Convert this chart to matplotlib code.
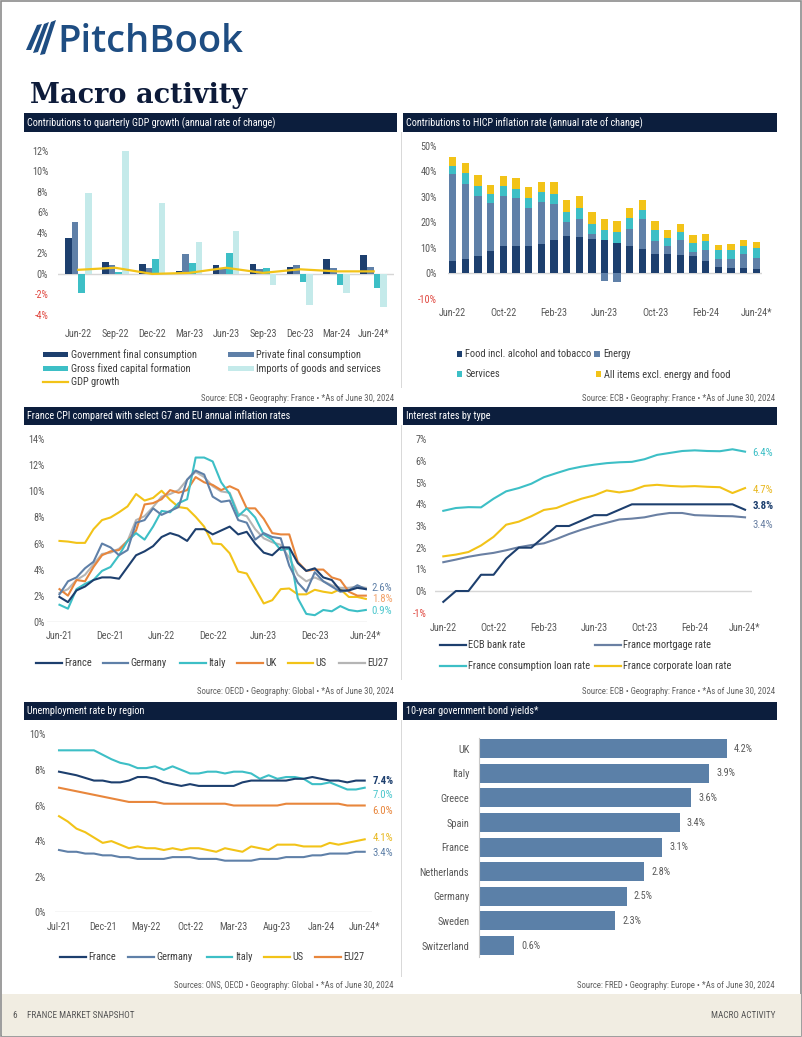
# Imports

import numpy
from matplotlib import pyplot
from matplotlib import font_manager
from matplotlib.patches import Rectangle, Polygon
from matplotlib.lines import Line2D

# Global variables

pageWidth = 802
pageHeight = 1037

installedFonts = set(f.name for f in font_manager.fontManager.ttflist)
bodyFont = "Liberation Sans"
for candidate in ["Liberation Sans Narrow", "Roboto Condensed", "Open Sans Condensed"]:
    if candidate in installedFonts:
        bodyFont = candidate
        break

pyplot.rcParams["font.family"] = [bodyFont, "DejaVu Sans"]

navyColor = "#1d3f6e"
slateColor = "#5f80a8"
tealColor = "#3dbfc6"
aquaColor = "#c4eaea"
yellowColor = "#f2c318"
orangeColor = "#e8863c"
greyColor = "#b5b5b5"
bondColor = "#5b80a8"
headerColor = "#0c1e3d"
negativeColor = "#e0473f"
tickColor = "#595959"
legendColor = "#3d3d3d"
zeroLineColor = "#d6d6d6"

# Data: contributions to quarterly GDP growth

gdpQuarters = ["Jun-22", "Sep-22", "Dec-22", "Mar-23", "Jun-23", "Sep-23", "Dec-23", "Mar-24", "Jun-24*"]
govConsumption = [3.5, 1.2, 1.0, 0.3, 0.9, 1.0, 0.7, 1.5, 1.8]
privateConsumption = [5.1, 0.9, 0.6, 1.9, 0.5, 0.5, 0.9, 0.6, 0.7]
capitalFormation = [-1.9, 0.2, 1.5, 1.1, 2.0, 0.6, -0.8, -1.1, -1.4]
importsGoods = [7.9, 12.0, 6.9, 3.1, 4.2, -1.1, -3.0, -1.9, -3.2]
gdpGrowth = [0.4, 0.6, 0.0, 0.1, 0.6, 0.1, 0.45, 0.25, 0.25]

# Data: contributions to HICP inflation (Jun-22 to Jun-24)

hicpTickLabels = ["Jun-22", "Oct-22", "Feb-23", "Jun-23", "Oct-23", "Feb-24", "Jun-24*"]
hicpFood = [5.0, 5.7, 6.9, 8.7, 10.6, 10.6, 10.6, 11.6, 13.2, 14.8, 14.4, 13.6, 13.1, 12.0, 10.8, 9.7, 7.7, 7.7, 7.3, 6.7, 5.0, 2.6, 2.0, 2.0, 1.6]
hicpEnergy = [33.9, 29.3, 23.4, 18.7, 19.7, 18.9, 15.1, 16.5, 14.0, 5.3, 6.7, 1.9, -3.0, -3.3, 6.7, 11.4, 5.1, 3.0, 5.8, 1.8, 4.1, 3.0, 3.5, 5.4, 4.5]
hicpServices = [3.3, 4.2, 3.9, 3.5, 3.9, 3.7, 3.7, 3.8, 3.9, 3.9, 4.5, 4.0, 3.9, 4.2, 4.3, 3.8, 4.2, 3.3, 3.2, 3.5, 3.7, 3.4, 3.6, 3.3, 3.7]
hicpCore = [3.5, 4.0, 4.3, 3.8, 4.1, 4.3, 4.3, 4.0, 4.7, 4.7, 4.7, 4.7, 4.4, 4.3, 3.9, 3.7, 3.5, 2.8, 3.0, 2.9, 2.6, 2.1, 2.3, 2.4, 2.3]

# Data: CPI comparison (Jun-21 to Jun-24)

cpiTickLabels = ["Jun-21", "Dec-21", "Jun-22", "Dec-22", "Jun-23", "Dec-23", "Jun-24*"]
cpiFrance = [1.9, 1.5, 2.4, 2.7, 3.2, 3.4, 3.4, 3.3, 4.2, 5.1, 5.4, 5.8, 6.5, 6.8, 6.6, 6.2, 7.1, 7.1, 6.7, 7.0, 7.3, 6.7, 6.9, 6.0, 5.3, 5.1, 5.7, 5.7, 4.5, 3.9, 4.1, 3.4, 3.2, 2.4, 2.4, 2.6, 2.5]
cpiGermany = [2.1, 3.1, 3.4, 4.1, 4.6, 6.0, 5.7, 5.1, 5.5, 7.6, 7.8, 8.7, 8.2, 8.5, 8.8, 10.9, 11.6, 11.3, 9.6, 9.2, 9.3, 7.8, 7.6, 6.3, 6.8, 6.5, 6.4, 4.3, 3.0, 2.3, 3.8, 3.1, 2.7, 2.3, 2.4, 2.8, 2.5]
cpiItaly = [1.3, 1.0, 2.5, 2.9, 3.2, 3.9, 4.2, 5.1, 6.2, 6.8, 6.3, 7.3, 8.5, 8.4, 9.1, 9.4, 12.6, 12.6, 12.3, 10.7, 9.8, 8.1, 8.7, 8.0, 6.7, 6.3, 5.5, 5.6, 1.8, 0.6, 0.5, 0.9, 0.8, 1.2, 0.9, 0.8, 0.9]
cpiUK = [2.5, 2.0, 3.2, 3.1, 4.2, 5.1, 5.4, 5.5, 6.2, 7.0, 9.0, 9.1, 9.4, 10.1, 9.9, 10.1, 11.1, 10.7, 10.5, 10.1, 10.4, 10.1, 8.7, 8.7, 7.9, 6.8, 6.7, 6.7, 4.6, 3.9, 4.0, 4.0, 3.4, 3.2, 2.3, 2.0, 2.0]
cpiUS = [6.2, 6.15, 6.05, 6.05, 7.1, 7.8, 8.0, 8.4, 8.85, 9.8, 9.3, 9.5, 10.05, 9.35, 8.8, 8.7, 8.05, 7.3, 6.0, 5.95, 5.25, 3.85, 3.7, 2.55, 1.4, 1.65, 2.5, 2.55, 2.1, 2.1, 2.45, 2.3, 2.2, 2.5, 1.9, 1.9, 1.75]
cpiEU27 = [2.2, 2.5, 3.2, 3.6, 4.4, 5.2, 5.3, 5.6, 6.2, 7.8, 8.1, 8.8, 9.6, 9.8, 10.1, 10.9, 11.5, 11.1, 10.4, 10.0, 9.9, 8.3, 8.1, 7.1, 6.4, 6.1, 5.9, 4.9, 3.6, 3.1, 3.4, 3.1, 2.8, 2.6, 2.6, 2.7, 2.6]

# Data: interest rates by type (Jun-22 to Jun-24)

rateTickLabels = ["Jun-22", "Oct-22", "Feb-23", "Jun-23", "Oct-23", "Feb-24", "Jun-24*"]
ecbRate = [-0.5, 0.0, 0.0, 0.75, 0.75, 1.5, 2.0, 2.0, 2.5, 3.0, 3.0, 3.25, 3.5, 3.5, 3.75, 4.0, 4.0, 4.0, 4.0, 4.0, 4.0, 4.0, 4.0, 4.0, 3.75]
mortgageRate = [1.33, 1.45, 1.58, 1.68, 1.76, 1.88, 2.02, 2.12, 2.2, 2.4, 2.63, 2.83, 3.0, 3.15, 3.3, 3.34, 3.4, 3.52, 3.6, 3.6, 3.5, 3.48, 3.46, 3.45, 3.4]
consumptionRate = [3.7, 3.83, 3.87, 3.86, 4.26, 4.6, 4.75, 4.95, 5.25, 5.44, 5.62, 5.74, 5.83, 5.9, 5.94, 5.96, 6.08, 6.28, 6.37, 6.46, 6.49, 6.46, 6.45, 6.54, 6.43]
corporateRate = [1.6, 1.68, 1.8, 2.1, 2.5, 3.06, 3.2, 3.45, 3.74, 3.83, 4.06, 4.26, 4.41, 4.64, 4.55, 4.64, 4.85, 4.9, 4.85, 4.82, 4.84, 4.81, 4.79, 4.52, 4.75]

# Data: unemployment rate by region (Jul-21 to Jun-24)

jobTickLabels = ["Jul-21", "Dec-21", "May-22", "Oct-22", "Mar-23", "Aug-23", "Jan-24", "Jun-24*"]
jobFrance = [7.9, 7.8, 7.7, 7.55, 7.4, 7.4, 7.3, 7.3, 7.4, 7.6, 7.6, 7.5, 7.3, 7.2, 7.1, 7.2, 7.1, 7.1, 7.1, 7.1, 7.1, 7.3, 7.4, 7.4, 7.4, 7.4, 7.4, 7.5, 7.5, 7.6, 7.5, 7.4, 7.4, 7.3, 7.4, 7.4]
jobGermany = [3.5, 3.4, 3.4, 3.3, 3.3, 3.2, 3.2, 3.1, 3.1, 3.0, 3.0, 3.0, 3.0, 3.1, 3.1, 3.1, 3.0, 3.0, 3.0, 2.9, 2.9, 2.9, 2.9, 3.0, 3.0, 3.0, 3.1, 3.1, 3.1, 3.2, 3.2, 3.3, 3.3, 3.3, 3.4, 3.4]
jobItaly = [9.1, 9.1, 9.1, 9.1, 9.1, 8.85, 8.6, 8.4, 8.3, 8.1, 8.1, 8.2, 8.0, 8.2, 8.0, 7.8, 7.8, 7.9, 7.9, 7.8, 7.9, 7.9, 7.8, 7.5, 7.7, 7.5, 7.6, 7.6, 7.5, 7.2, 7.2, 7.3, 7.1, 6.9, 6.9, 7.0]
jobUS = [5.4, 5.1, 4.7, 4.5, 4.2, 3.9, 4.0, 3.8, 3.6, 3.7, 3.6, 3.6, 3.5, 3.6, 3.5, 3.6, 3.6, 3.5, 3.4, 3.6, 3.5, 3.4, 3.7, 3.6, 3.5, 3.8, 3.8, 3.8, 3.7, 3.7, 3.7, 3.9, 3.8, 3.9, 4.0, 4.1]
jobEU27 = [7.0, 6.9, 6.8, 6.7, 6.6, 6.5, 6.4, 6.3, 6.2, 6.2, 6.2, 6.2, 6.1, 6.1, 6.1, 6.1, 6.1, 6.1, 6.1, 6.1, 6.0, 6.0, 6.0, 6.0, 6.0, 6.0, 6.1, 6.1, 6.1, 6.1, 6.1, 6.1, 6.1, 6.0, 6.0, 6.0]

# Data: 10-year government bond yields

bondCountries = ["UK", "Italy", "Greece", "Spain", "France", "Netherlands", "Germany", "Sweden", "Switzerland"]
bondYields = [4.2, 3.9, 3.6, 3.4, 3.1, 2.8, 2.5, 2.3, 0.6]

# Functions definition

def figX(x):
    return x / pageWidth

def figY(y):
    return 1 - y / pageHeight

def addAxes(fig, left, top, right, bottom):
    ax = fig.add_axes([figX(left), figY(bottom), (right - left) / pageWidth, (bottom - top) / pageHeight])
    ax.set_facecolor("none")
    for spine in ax.spines.values():
        spine.set_visible(False)
    ax.tick_params(length=0, labelsize=7.3, labelcolor=tickColor)
    return ax

def setPercentTicks(ax, ticks, pad):
    ax.set_yticks(ticks)
    ax.set_yticklabels(["{0}%".format(t) for t in ticks])
    for t, label in zip(ticks, ax.get_yticklabels()):
        if t < 0:
            label.set_color(negativeColor)
    ax.tick_params(axis="y", pad=pad)

def setDateTicks(ax, labels, step, pad):
    ax.set_xticks(numpy.arange(len(labels)) * step)
    ax.set_xticklabels(labels)
    ax.tick_params(axis="x", pad=pad)

def addRect(fig, left, top, right, bottom, color, **kwargs):
    fig.add_artist(Rectangle((figX(left), figY(bottom)), (right - left) / pageWidth, (bottom - top) / pageHeight,
                             transform=fig.transFigure, facecolor=color, edgecolor="none", **kwargs))

def addHeader(fig, left, right, top, bottom, title):
    addRect(fig, left, top, right, bottom, headerColor)
    fig.text(figX(left + 3), figY((top + bottom) / 2), title, color="white", fontsize=7.3, va="center", ha="left")

def addSource(fig, right, y, text):
    fig.text(figX(right), figY(y), text, ha="right", va="center", fontsize=6.3, color="#5f5f5f")

def addLegendEntry(fig, kind, color, label, x, y):
    if kind == "line":
        fig.add_artist(Line2D([figX(x), figX(x + 25.6)], [figY(y), figY(y)], transform=fig.transFigure, color=color, lw=1.6))
        textX = x + 28
    elif kind == "bar":
        addRect(fig, x, y - 2.5, x + 25.6, y + 2.5, color)
        textX = x + 28
    else:
        addRect(fig, x, y - 2.8, x + 5.6, y + 2.8, color)
        textX = x + 8.5
    fig.text(figX(textX), figY(y), label, ha="left", va="center", fontsize=7.5, color=legendColor)

def addEndLabels(ax, labels, offset):
    for text, level, color, weight in labels:
        ax.annotate(text, (1, level), xycoords=ax.get_yaxis_transform(), xytext=(offset, 0), textcoords="offset points",
                    ha="left", va="center", fontsize=7.8, color=color, fontweight=weight)

# Figure

fig = pyplot.figure(figsize=(pageWidth / 100, pageHeight / 100), dpi=100)
fig.patch.set_facecolor("white")

# Page frame, logo and title

fig.add_artist(Rectangle((0.001, 0.001), 0.998, 0.998, transform=fig.transFigure, facecolor="none", edgecolor="#8c8c8c", lw=1.2))
logoColor = "#1e4d82"
for stripe in [[(26, 50), (37, 25), (42, 24), (31, 50)], [(33, 53), (44, 24), (49, 22), (38, 52)], [(40, 55), (51, 22), (56, 20), (45, 54)]]:
    fig.add_artist(Polygon([(figX(px), figY(py)) for px, py in stripe], closed=True, transform=fig.transFigure, facecolor=logoColor, edgecolor="none"))
fig.text(figX(57), figY(52), "PitchBook", fontsize=27.5, color=logoColor, family=["Open Sans", "DejaVu Sans"],
         fontweight="semibold", ha="left", va="baseline")
fig.text(figX(30), figY(103), "Macro activity", fontsize=19.5, color="#0d1b3a", family=["DejaVu Serif"],
         fontweight="bold", ha="left", va="baseline")

# Section headers

addHeader(fig, 24.3, 396.7, 113.3, 132.3, "Contributions to quarterly GDP growth (annual rate of change)")
addHeader(fig, 403.3, 776.7, 113.3, 132.3, "Contributions to HICP inflation rate (annual rate of change)")
addHeader(fig, 24.3, 396.7, 406.5, 425, "France CPI compared with select G7 and EU annual inflation rates")
addHeader(fig, 403.3, 776.7, 406.5, 425, "Interest rates by type")
addHeader(fig, 24.3, 396.7, 701.5, 719.5, "Unemployment rate by region")
addHeader(fig, 403.3, 776.7, 701.5, 719.5, "10-year government bond yields*")

for top, bottom in [(132.3, 388), (425, 680), (719.5, 977)]:
    addRect(fig, 400.8, top, 402.3, bottom, "#d9d9d9")

# Chart 1: GDP contributions

ax1 = addAxes(fig, 58, 150.7, 394, 315)
quarterPositions = numpy.arange(len(gdpQuarters))
barWidth = 0.18
gdpSeries = [(govConsumption, navyColor), (privateConsumption, slateColor), (capitalFormation, tealColor), (importsGoods, aquaColor)]
for i, (values, color) in enumerate(gdpSeries):
    ax1.bar(quarterPositions + (i - 1.5) * barWidth, values, barWidth, color=color, zorder=2)
ax1.axhline(0, color=zeroLineColor, lw=1, zorder=1)
ax1.plot(quarterPositions, gdpGrowth, color=yellowColor, lw=1.6, zorder=3)
ax1.set_xlim(-0.55, 8.55)
ax1.set_ylim(-4, 12)
setPercentTicks(ax1, list(range(-4, 13, 2)), 7)
setDateTicks(ax1, gdpQuarters, 1, 10.4)

addLegendEntry(fig, "bar", navyColor, "Government final consumption", 42.7, 354.3)
addLegendEntry(fig, "bar", tealColor, "Gross fixed capital formation", 42.7, 368.3)
addLegendEntry(fig, "line", yellowColor, "GDP growth", 42.7, 381.7)
addLegendEntry(fig, "bar", slateColor, "Private final consumption", 228, 354.3)
addLegendEntry(fig, "bar", aquaColor, "Imports of goods and services", 228, 368.3)
addSource(fig, 394, 398.5, "Source: ECB • Geography: France • *As of June 30, 2024")

# Chart 2: HICP contributions

ax2 = addAxes(fig, 448, 145.7, 762, 298.8)
hicpPositions = numpy.arange(len(hicpFood))
positiveBottom = numpy.zeros(len(hicpFood))
negativeBottom = numpy.zeros(len(hicpFood))
for values, color in [(hicpFood, navyColor), (hicpEnergy, slateColor), (hicpServices, tealColor), (hicpCore, yellowColor)]:
    values = numpy.array(values)
    bottom = numpy.where(values >= 0, positiveBottom, negativeBottom)
    ax2.bar(hicpPositions, values, 0.58, bottom=bottom, color=color, zorder=2)
    positiveBottom += numpy.where(values >= 0, values, 0)
    negativeBottom += numpy.where(values < 0, values, 0)
ax2.axhline(0, color=zeroLineColor, lw=1, zorder=1)
ax2.set_xlim(-0.37, 24.45)
ax2.set_ylim(-10, 50)
setPercentTicks(ax2, list(range(-10, 51, 10)), 8)
setDateTicks(ax2, hicpTickLabels, 4, 6.5)

addLegendEntry(fig, "square", navyColor, "Food incl. alcohol and tobacco", 456.7, 354.3)
addLegendEntry(fig, "square", slateColor, "Energy", 594.3, 354.3)
addLegendEntry(fig, "square", tealColor, "Services", 456.7, 374.3)
addLegendEntry(fig, "square", yellowColor, "All items excl. energy and food", 595.7, 374.3)
addSource(fig, 775, 398.5, "Source: ECB • Geography: France • *As of June 30, 2024")

# Chart 3: CPI comparison

ax3 = addAxes(fig, 46.7, 439.3, 366.7, 621.7)
cpiPositions = numpy.arange(len(cpiFrance))
ax3.axhline(0, color=zeroLineColor, lw=1, zorder=1)
for values, color in [(cpiUS, yellowColor), (cpiEU27, greyColor), (cpiUK, orangeColor), (cpiItaly, tealColor), (cpiGermany, slateColor), (cpiFrance, navyColor)]:
    ax3.plot(cpiPositions, values, color=color, lw=1.5, zorder=2)
ax3.set_xlim(-1.5, 36.1)
ax3.set_ylim(0, 14)
setPercentTicks(ax3, list(range(0, 15, 2)), 1.2)
setDateTicks(ax3, cpiTickLabels, 6, 6.8)
addEndLabels(ax3, [("2.6%", 2.6, slateColor, "normal"), ("1.8%", 1.75, "#f2a36b", "normal"), ("0.9%", 0.85, "#4cc7cd", "normal")], 3.6)

legendItems = [("France", navyColor, 36), ("Germany", slateColor, 102.7), ("Italy", tealColor, 180), ("UK", orangeColor, 237.3), ("US", yellowColor, 287.7), ("EU27", greyColor, 339)]
for label, color, x in legendItems:
    addLegendEntry(fig, "line", color, label, x, 663.3)
addSource(fig, 394, 691.5, "Source: OECD • Geography: Global • *As of June 30, 2024")

# Chart 4: interest rates

ax4 = addAxes(fig, 435, 439.3, 751.7, 612.7)
ratePositions = numpy.arange(len(ecbRate))
ax4.axhline(0, color=zeroLineColor, lw=1, zorder=1)
for values, color in [(mortgageRate, "#6a80a3"), (corporateRate, yellowColor), (consumptionRate, tealColor), (ecbRate, navyColor)]:
    ax4.plot(ratePositions, values, color=color, lw=1.5, zorder=2)
ax4.set_xlim(-0.66, 24.53)
ax4.set_ylim(-1, 7)
setPercentTicks(ax4, list(range(-1, 8)), 6)
setDateTicks(ax4, rateTickLabels, 4, 7.4)
addEndLabels(ax4, [("6.4%", 6.39, tealColor, "normal"), ("4.7%", 4.67, "#e8b820", "normal"), ("3.8%", 3.94, navyColor, "bold"), ("3.4%", 3.06, "#6a80a3", "normal")], 0.5)

addLegendEntry(fig, "line", navyColor, "ECB bank rate", 440, 645)
addLegendEntry(fig, "line", "#6a80a3", "France mortgage rate", 595, 645)
addLegendEntry(fig, "line", tealColor, "France consumption loan rate", 440, 665.7)
addLegendEntry(fig, "line", yellowColor, "France corporate loan rate", 595, 665.7)
addSource(fig, 775, 691.5, "Source: ECB • Geography: France • *As of June 30, 2024")

# Chart 5: unemployment

ax5 = addAxes(fig, 55, 734.3, 371.7, 912.3)
jobPositions = numpy.arange(len(jobFrance))
ax5.axhline(0, color=zeroLineColor, lw=1, zorder=1)
for values, color in [(jobGermany, slateColor), (jobUS, yellowColor), (jobEU27, orangeColor), (jobItaly, tealColor), (jobFrance, navyColor)]:
    ax5.plot(jobPositions, values, color=color, lw=1.5, zorder=2)
ax5.set_xlim(-0.46, 35.8)
ax5.set_ylim(0, 10)
setPercentTicks(ax5, list(range(0, 11, 2)), 6.5)
setDateTicks(ax5, jobTickLabels, 5, 7.1)
addEndLabels(ax5, [("7.4%", 7.38, navyColor, "bold"), ("7.0%", 6.6, "#4cc7cd", "normal"), ("6.0%", 5.7, orangeColor, "normal"),
                   ("4.1%", 4.2, "#e8b820", "normal"), ("3.4%", 3.35, slateColor, "normal")], 0.5)

legendItems = [("France", navyColor, 60), ("Germany", slateColor, 128.3), ("Italy", tealColor, 206.7), ("US", yellowColor, 264.3), ("EU27", orangeColor, 315)]
for label, color, x in legendItems:
    addLegendEntry(fig, "line", color, label, x, 956.7)
addSource(fig, 394, 985.5, "Sources: ONS, OECD • Geography: Global • *As of June 30, 2024")

# Chart 6: bond yields

ax6 = addAxes(fig, 479, 737.7, 777, 956.6)
bondRows = numpy.arange(len(bondCountries))
ax6.barh(bondRows, bondYields, 0.77, color=bondColor)
ax6.set_xlim(0, 5.05)
ax6.set_ylim(8.45, -0.45)
ax6.set_xticks([])
ax6.set_yticks(bondRows)
ax6.set_yticklabels(bondCountries)
ax6.tick_params(axis="y", pad=7, labelsize=7.5)
ax6.spines["left"].set_visible(True)
ax6.spines["left"].set_color("#c8c8c8")
for row, value in zip(bondRows, bondYields):
    ax6.annotate("{0:.1f}%".format(value), (value, row), xytext=(5.3, 0), textcoords="offset points",
                 va="center", ha="left", fontsize=7.3, color=tickColor)
addSource(fig, 775, 985.5, "Source: FRED • Geography: Europe • *As of June 30, 2024")

# Footer

addRect(fig, 1.5, 993.5, 800.5, 1035.5, "#f1ede2")
fig.text(figX(12), figY(1015), "6", fontsize=6.6, color="#555555", va="center")
fig.text(figX(27), figY(1015), "FRANCE MARKET SNAPSHOT", fontsize=6.6, color="#555555", va="center")
fig.text(figX(775), figY(1015), "MACRO ACTIVITY", fontsize=6.6, color="#555555", va="center", ha="right")

# Save plot

fig.savefig("out.png", dpi=100)
pyplot.close()
